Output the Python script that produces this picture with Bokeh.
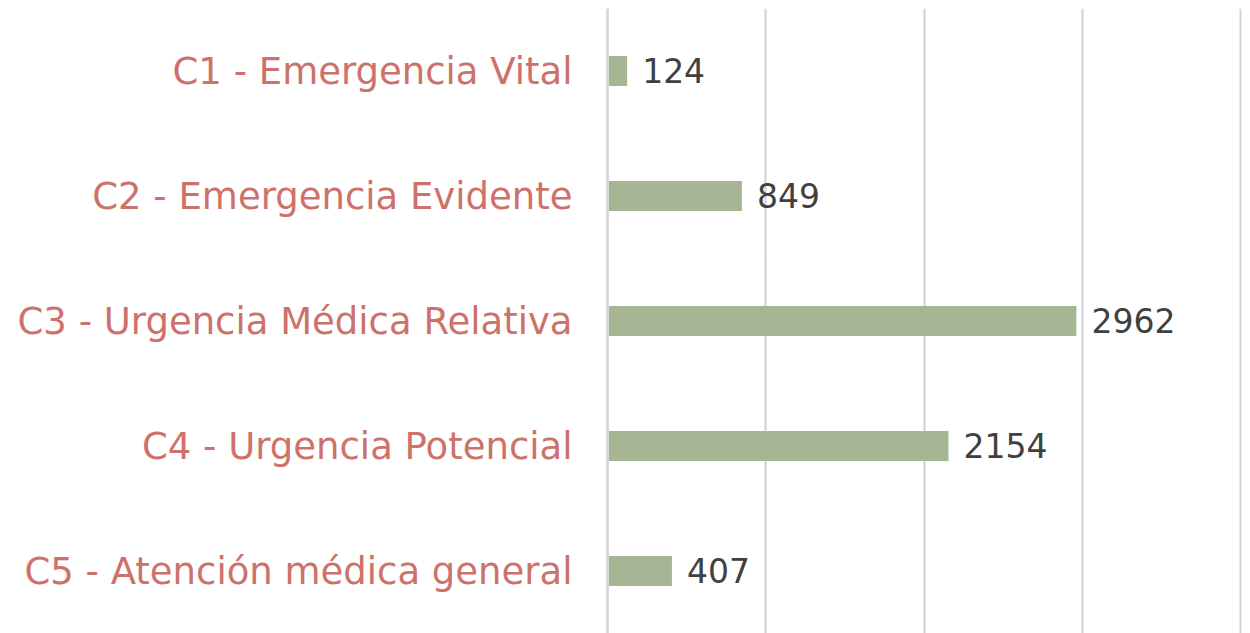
from bokeh.plotting import figure
from bokeh.models import ColumnDataSource, FactorRange, Range1d, FixedTicker
from bokeh.core.properties import value
from bokeh.embed import file_html
from bokeh.resources import INLINE

categories = ["C1 - Emergencia Vital", "C2 - Emergencia Evidente",
              "C3 - Urgencia Médica Relativa", "C4 - Urgencia Potencial",
              "C5 - Atención médica general"]
counts = [124, 849, 2962, 2154, 407]
x_ticks = [0, 1000, 2000, 3000, 4000]

FONT = "DejaVu Sans"

src = ColumnDataSource(dict(cat=categories, val=counts, lab=[str(v) for v in counts]))

p = figure(y_range=FactorRange(*reversed(categories)), x_range=Range1d(0, 4005),
           frame_width=634, frame_height=625, output_backend="svg",
           toolbar_location=None, min_border_left=607, min_border_right=2,
           min_border_top=8, min_border_bottom=0)

p.hbar(y="cat", right="val", left=0, height=0.24, source=src,
       fill_color="#a6b594", line_color=None)
p.text(x="val", y="cat", text="lab", source=src, x_offset=15, y_offset=-1,
       text_baseline="middle", text_align="left", text_color="#404040",
       text_font=value(FONT), text_font_size="33px")

p.xaxis.visible = False
p.xaxis.ticker = FixedTicker(ticks=x_ticks)
p.xgrid.ticker = FixedTicker(ticks=x_ticks[1:])
p.xgrid.grid_line_color = "#d0d0d0"
p.xgrid.grid_line_width = 2
p.ygrid.grid_line_color = None

ax = p.yaxis[0]
ax.axis_line_color = "#d9d9d9"
ax.axis_line_width = 3
ax.major_tick_line_color = None
ax.minor_tick_line_color = None
ax.major_label_standoff = 29
ax.major_label_text_font = FONT
ax.major_label_text_font_size = "37px"
ax.major_label_text_color = "#cd726a"
p.outline_line_color = None

open("out.html", "w").write(file_html(p, INLINE))
